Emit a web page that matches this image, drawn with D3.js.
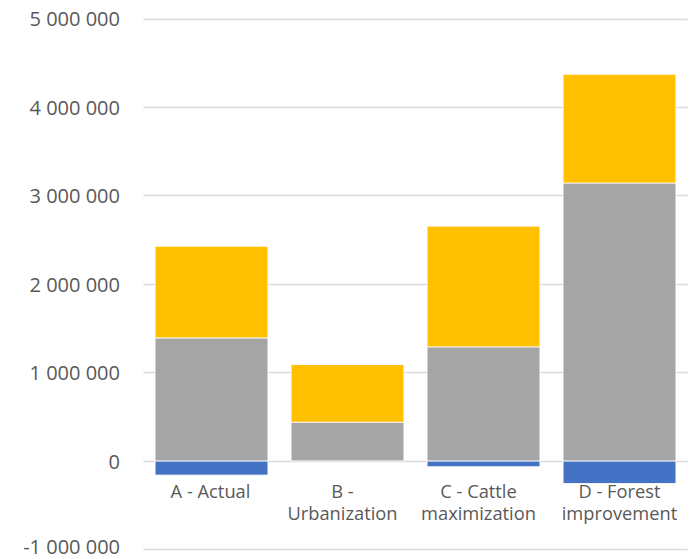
<!DOCTYPE html>
<html>
<head>
<meta charset="utf-8">
<script src="https://cdn.jsdelivr.net/npm/d3@7/dist/d3.min.js"></script>
<style>
  html, body { margin: 0; padding: 0; background: #fff; }
  svg { display: block; }
  .tick-label { font-family: "Open Sans", sans-serif; fill: #595959; }
</style>
</head>
<body>
<svg id="chart" width="691" height="559"></svg>
<script>
// Scenario categories, with the line breaks used under the axis
const categories = ["A - Actual", "B - Urbanization", "C - Cattle maximization", "D - Forest improvement"];
const categoryLines = [["A - Actual"], ["B -", "Urbanization"], ["C - Cattle", "maximization"], ["D - Forest", "improvement"]];

// Series values per scenario
const negativeSeries = [-160000, 0, -66000, -254000];
const graySeries = [1390000, 438000, 1289000, 3141000];
const yellowSeries = [1036000, 650000, 1364000, 1229000];

const seriesColors = ["#4472c4", "#a5a5a5", "#ffc000"];
const yTicks = [-1000000, 0, 1000000, 2000000, 3000000, 4000000, 5000000];

const svg = d3.select("#chart");

const x = d3.scaleBand()
  .domain(categories)
  .range([143.5, 687.5])
  .paddingInner(0.17)
  .paddingOuter(0.085);

const y = d3.scaleLinear()
  .domain([-1000000, 5000000])
  .range([549.4, 18.5]);

// Thousands separated by spaces, plain hyphen for negatives
const fmt = v => d3.format(",")(v).replace(/,/g, "\u00a0").replace("\u2212", "-");

// Gridlines
svg.append("g")
  .selectAll("line")
  .data(yTicks)
  .join("line")
  .attr("x1", 143.5).attr("x2", 687.5)
  .attr("y1", d => Math.round(y(d)) + 0.5)
  .attr("y2", d => Math.round(y(d)) + 0.5)
  .attr("stroke", "#d9d9d9")
  .attr("stroke-width", 1.3);

// Y axis labels (the lowest one is nudged up to stay inside the frame)
const yAxis = d3.axisLeft(y).tickValues(yTicks).tickSize(0).tickPadding(0).tickFormat(fmt);
const yg = svg.append("g").attr("transform", "translate(120,0)").call(yAxis);
yg.select(".domain").remove();
yg.selectAll("text")
  .attr("class", "tick-label")
  .attr("font-size", 20)
  .attr("dy", d => d === yTicks[0] ? "0.2em" : "0.36em")
  .attr("font-family", null);

// Stacked bars
const rows = categories.map((c, i) => ({
  cat: c,
  neg: negativeSeries[i],
  gray: graySeries[i],
  yellow: yellowSeries[i]
}));

const segments = [];
rows.forEach(r => {
  if (r.neg < 0) segments.push({ cat: r.cat, y0: r.neg, y1: 0, color: seriesColors[0] });
  segments.push({ cat: r.cat, y0: 0, y1: r.gray, color: seriesColors[1] });
  segments.push({ cat: r.cat, y0: r.gray, y1: r.gray + r.yellow, color: seriesColors[2] });
});

svg.append("g")
  .selectAll("rect")
  .data(segments)
  .join("rect")
  .attr("x", d => x(d.cat))
  .attr("width", x.bandwidth())
  .attr("y", d => y(d.y1))
  .attr("height", d => y(d.y0) - y(d.y1))
  .attr("fill", d => d.color)
  .attr("stroke", "#ffffff")
  .attr("stroke-width", 0.8);

// Category labels (wrapped labels sit a little left of the bar centre)
const labelShift = [-1, -5, -5, 0];
const xg = svg.append("g");
categories.forEach((c, i) => {
  const cx = x(c) + x.bandwidth() / 2 + labelShift[i];
  const t = xg.append("text")
    .attr("class", "tick-label")
    .attr("font-size", 18.3)
    .attr("text-anchor", "middle")
    .attr("x", cx)
    .attr("y", 497.5);
  categoryLines[i].forEach((line, j) => {
    t.append("tspan")
      .attr("x", cx)
      .attr("dy", j === 0 ? 0 : 22.7)
      .text(line);
  });
});
</script>
</body>
</html>
